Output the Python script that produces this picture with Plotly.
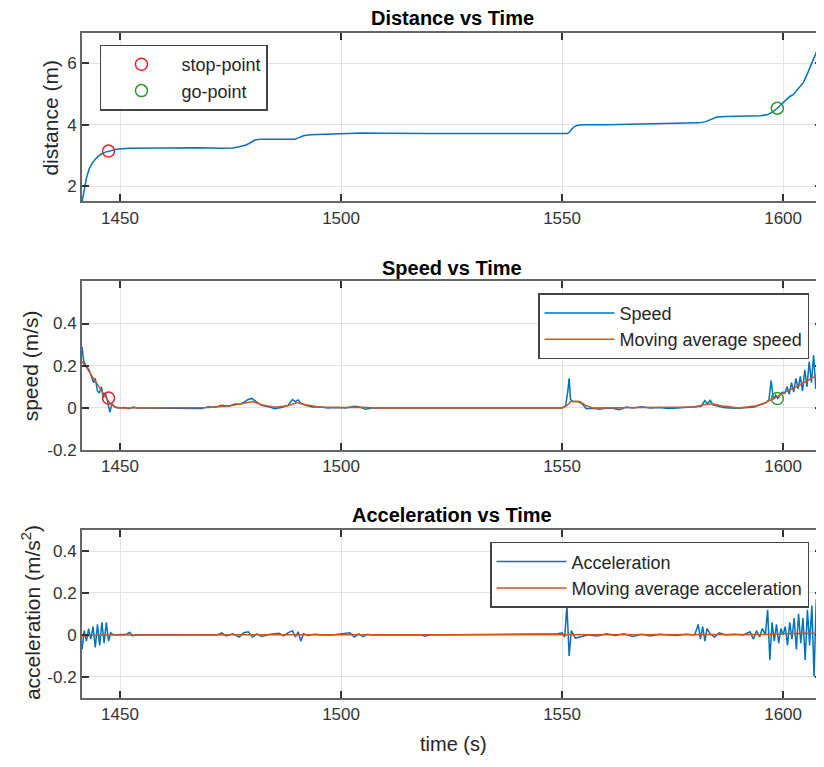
import plotly.graph_objects as go

# ---------------- data ----------------
dist_t = [1441.4, 1441.8, 1442.4, 1443.0, 1443.7, 1444.7, 1445.6, 1446.5, 1447.4, 1448.3,
          1449.2, 1452, 1460, 1468, 1473, 1475.5, 1477, 1478.5, 1479.6, 1480.5,
          1482, 1485, 1488, 1489.5, 1490.5, 1491.5, 1493, 1497, 1501, 1505,
          1508, 1520, 1551.2, 1551.7, 1552.2, 1552.8, 1553.5, 1555, 1560, 1568,
          1576, 1581, 1582.5, 1583.5, 1585, 1587, 1592, 1595, 1596.5, 1597.7,
          1598.6, 1599.5, 1600.5, 1601.5, 1602.3, 1603, 1603.8, 1604.6, 1605.3, 1606,
          1606.8, 1607.5, 1608.2, 1608.9]
dist_v = [1.48, 1.8, 2.26, 2.55, 2.75, 2.92, 3.03, 3.1, 3.14, 3.18,
          3.2, 3.23, 3.25, 3.25, 3.23, 3.24, 3.28, 3.34, 3.42, 3.5,
          3.53, 3.53, 3.52, 3.53, 3.58, 3.64, 3.67, 3.69, 3.70, 3.73,
          3.72, 3.71, 3.71, 3.76, 3.86, 3.94, 3.98, 4.0, 4.0, 4.02,
          4.03, 4.06, 4.1, 4.16, 4.25, 4.27, 4.28, 4.29, 4.33, 4.42,
          4.53, 4.65, 4.8, 4.92, 4.98, 5.1, 5.24, 5.38, 5.6, 5.85,
          6.13, 6.35, 6.55, 6.7]

stop_t = [1447.4]
stop_dist = [3.14]
stop_speed = [0.047]
go_t = [1598.7]
go_dist = [4.54]
go_speed = [0.045]

speed_t = [1441.4, 1441.8, 1442.3, 1443.0, 1443.5, 1444.0, 1444.4, 1444.9, 1445.3, 1445.8,
           1446.2, 1446.7, 1447.2, 1447.7, 1448.2, 1448.8, 1449.5, 1451.0, 1452.0, 1453.0,
           1454.0, 1467.0, 1468.5, 1470.0, 1471.5, 1473.0, 1474.5, 1476.0, 1477.5, 1479.0,
           1479.8, 1480.8, 1482.0, 1483.5, 1485.0, 1486.5, 1488.0, 1489.0, 1489.6, 1490.3,
           1491.0, 1492.0, 1493.5, 1495.0, 1497.0, 1499.0, 1501.0, 1503.0, 1504.0, 1505.5,
           1507.0, 1550.0, 1550.8, 1551.3, 1551.6, 1551.9, 1552.5, 1553.5, 1554.5, 1555.5,
           1557.0, 1558.5, 1560.0, 1561.5, 1563.0, 1564.5, 1566.0, 1568.0, 1570.0, 1572.0,
           1574.0, 1576.0, 1578.0, 1580.0, 1581.5, 1582.3, 1582.9, 1583.5, 1584.1, 1585.0,
           1586.5, 1588.0, 1590.0, 1592.0, 1593.5, 1594.5, 1595.5, 1596.2, 1596.8, 1597.3,
           1597.8, 1598.3, 1598.8, 1599.3, 1599.8, 1600.4, 1600.9, 1601.4, 1601.9, 1602.4,
           1602.9, 1603.4, 1603.9, 1604.4, 1604.9, 1605.4, 1605.9, 1606.4, 1606.9, 1607.4,
           1607.9, 1608.4, 1608.9]
speed_v = [0.29, 0.22, 0.2, 0.18, 0.15, 0.12, 0.14, 0.08, 0.07, 0.10,
           0.05, 0.07, 0.03, -0.02, 0.02, 0.005, 0.0, 0.002, -0.004, 0.004,
           0.0, 0.0, -0.003, 0.006, 0.003, 0.012, 0.008, 0.018, 0.02, 0.04,
           0.045, 0.03, 0.012, 0.006, -0.004, 0.002, 0.012, 0.04, 0.03, 0.038,
           0.02, 0.012, 0.004, 0.006, 0.0, 0.002, 0.0, 0.008, 0.006, -0.006,
           0.0, 0.0, 0.01, 0.08, 0.14, 0.04, 0.03, 0.03, 0.02, -0.004,
           -0.002, -0.006, 0.0, -0.002, -0.008, 0.004, 0.0, 0.006, 0.0, 0.002,
           -0.003, 0.0, 0.004, 0.006, 0.008, 0.035, 0.02, 0.036, 0.015, 0.01,
           0.002, 0.0, -0.002, 0.002, 0.004, 0.012, 0.02, 0.025, 0.04, 0.13,
           0.04, 0.06, 0.045, 0.06, 0.075, 0.07, 0.1, 0.065, 0.12, 0.075,
           0.14, 0.09, 0.15, 0.08, 0.18, 0.1, 0.22, 0.12, 0.25, 0.09,
           0.27, 0.15, 0.2]

ma_speed_t = [1441.4, 1442.5, 1444.0, 1445.5, 1446.8, 1447.8, 1448.8, 1450, 1470, 1475,
              1478, 1480, 1482, 1485, 1488, 1490, 1492, 1495, 1500, 1505,
              1508, 1550, 1551, 1552, 1554, 1555.5, 1557, 1570, 1580, 1582,
              1584, 1586, 1590, 1594, 1596, 1598, 1600, 1602, 1604, 1606,
              1608, 1608.9]
ma_speed_v = [0.22, 0.19, 0.14, 0.09, 0.05, 0.02, 0.005, 0.0, 0.002, 0.01,
              0.02, 0.03, 0.015, 0.003, 0.01, 0.025, 0.015, 0.004, 0.002, 0.003,
              0.0, 0.0, 0.01, 0.03, 0.03, 0.01, 0.0, 0.002, 0.004, 0.015,
              0.02, 0.01, 0.0, 0.01, 0.025, 0.045, 0.07, 0.09, 0.11, 0.135,
              0.16, 0.17]

acc_t = [1441.4, 1441.9, 1442.4, 1442.9, 1443.4, 1443.9, 1444.4, 1444.9, 1445.4, 1445.9,
         1446.4, 1446.9, 1447.4, 1447.9, 1448.5, 1449.5, 1451.5, 1452.2, 1452.8, 1453.5,
         1472.0, 1473.0, 1474.0, 1475.5, 1477.0, 1478.0, 1479.0, 1480.0, 1481.0, 1482.0,
         1484.0, 1486.0, 1487.0, 1488.0, 1489.0, 1489.7, 1490.3, 1490.9, 1491.5, 1492.5,
         1494.0, 1496.0, 1498.0, 1502.0, 1503.0, 1504.0, 1505.0, 1506.0, 1507.0, 1518.0,
         1519.0, 1520.0, 1549.0, 1550.0, 1550.6, 1551.1, 1551.6, 1552.1, 1553.0, 1554.0,
         1556.0, 1558.0, 1560.0, 1562.0, 1564.0, 1566.0, 1568.0, 1570.0, 1572.0, 1574.0,
         1576.0, 1578.0, 1580.0, 1580.8, 1581.3, 1581.8, 1582.3, 1582.8, 1583.5, 1584.5,
         1585.5, 1587.0, 1589.0, 1591.0, 1592.5, 1593.3, 1594.0, 1594.7, 1595.3, 1596.0,
         1596.5, 1597.0, 1597.5, 1598.0, 1598.5, 1599.0, 1599.5, 1600.0, 1600.5, 1601.0,
         1601.5, 1602.0, 1602.5, 1603.0, 1603.5, 1604.0, 1604.5, 1605.0, 1605.5, 1606.0,
         1606.5, 1607.0, 1607.5, 1608.0, 1608.5, 1608.9]
acc_v = [-0.07, 0.02, -0.03, 0.03, -0.02, 0.04, -0.06, 0.05, -0.05, 0.06,
         -0.04, 0.06, -0.03, 0.01, 0.0, 0.0, 0.003, 0.012, -0.005, 0.0,
         0.0, 0.01, -0.005, 0.005, -0.01, 0.01, 0.015, -0.01, 0.005, -0.008,
         0.003, 0.008, -0.005, 0.01, 0.02, -0.01, 0.015, -0.03, 0.005, -0.003,
         0.003, 0.0, 0.0, 0.01, -0.01, 0.005, -0.008, 0.003, 0.0, 0.0,
         -0.006, 0.0, 0.005, 0.01, -0.01, 0.14, -0.1, 0.02, -0.015, -0.01,
         0.0, -0.005, 0.005, -0.003, 0.005, -0.008, 0.003, -0.005, 0.003, 0.0,
         -0.003, 0.003, 0.0, 0.05, -0.02, 0.04, -0.03, 0.03, 0.005, -0.01,
         0.01, 0.0, 0.003, 0.0, 0.015, -0.02, 0.02, -0.01, 0.03, 0.0,
         0.12, -0.12, 0.06, -0.03, 0.05, -0.04, 0.03, 0.0, 0.04, -0.05,
         0.06, -0.02, 0.08, -0.07, 0.1, -0.04, 0.08, -0.12, 0.12, -0.05,
         0.14, -0.2, 0.17, -0.23, 0.19, -0.1]

ma_acc_t = [1441.4, 1446.0, 1450.0, 1550.0, 1596.0, 1600.0, 1604.0, 1608.9]
ma_acc_v = [-0.005, 0.0, 0.0, 0.0, 0.002, 0.005, 0.008, 0.01]

x_ticks = [1450, 1500, 1550, 1600]
x_range = [1441.4, 1608.8]

# ---------------- style ----------------
OFF = 8                       # page offset of the figure (body margin)
W, H = 824 - OFF, 767 - OFF   # figure size so that it fits the window
L, R, T, B = 82 - OFF, 0, 0, 0
BLUE = "#0072BD"
ORANGE = "#D95319"
RED = "#e8242b"
GREEN = "#2f9a2f"
FONT = "Liberation Sans, Arial, sans-serif"


def py(pix):
    return 1 - (pix - OFF) / H


def px(pix):
    return (pix - OFF - L) / (W - L - R)


fig = go.Figure()

# Panel 1 - distance
fig.add_trace(go.Scatter(x=dist_t, y=dist_v, mode="lines", line=dict(color=BLUE, width=1.5),
                         showlegend=False, xaxis="x", yaxis="y"))
fig.add_trace(go.Scatter(x=stop_t, y=stop_dist, mode="markers", name="stop-point",
                         marker=dict(symbol="circle-open", size=12, color=RED, line=dict(width=1.5)),
                         xaxis="x", yaxis="y", legend="legend"))
fig.add_trace(go.Scatter(x=go_t, y=go_dist, mode="markers", name="go-point",
                         marker=dict(symbol="circle-open", size=12, color=GREEN, line=dict(width=1.5)),
                         xaxis="x", yaxis="y", legend="legend"))

# Panel 2 - speed
fig.add_trace(go.Scatter(x=speed_t, y=speed_v, mode="lines", name="Speed",
                         line=dict(color=BLUE, width=1.5), xaxis="x2", yaxis="y2", legend="legend2"))
fig.add_trace(go.Scatter(x=ma_speed_t, y=ma_speed_v, mode="lines", name="Moving average speed",
                         line=dict(color=ORANGE, width=1.5), xaxis="x2", yaxis="y2", legend="legend2"))
fig.add_trace(go.Scatter(x=stop_t, y=stop_speed, mode="markers", showlegend=False,
                         marker=dict(symbol="circle-open", size=12, color=RED, line=dict(width=1.5)),
                         xaxis="x2", yaxis="y2"))
fig.add_trace(go.Scatter(x=go_t, y=go_speed, mode="markers", showlegend=False,
                         marker=dict(symbol="circle-open", size=12, color=GREEN, line=dict(width=1.5)),
                         xaxis="x2", yaxis="y2"))

# Panel 3 - acceleration
fig.add_trace(go.Scatter(x=acc_t, y=acc_v, mode="lines", name="Acceleration",
                         line=dict(color=BLUE, width=1.5), xaxis="x3", yaxis="y3", legend="legend3"))
fig.add_trace(go.Scatter(x=ma_acc_t, y=ma_acc_v, mode="lines", name="Moving average acceleration",
                         line=dict(color=ORANGE, width=1.5), xaxis="x3", yaxis="y3", legend="legend3"))

axis_common = dict(showline=True, linecolor="#666666", linewidth=2, mirror="ticks",
                   ticks="inside", ticklen=7, tickwidth=1.5, tickcolor="#333333",
                   showgrid=True, gridcolor="#e3e3e3", gridwidth=1, zeroline=False,
                   tickfont=dict(family=FONT, size=17, color="#333333"))

domains = [(33, 204), (285, 456), (537, 707)]
yranges = [[1.5, 7.0], [-0.2, 0.6], [-0.3, 0.5]]
yticks = [[2, 4, 6], [-0.2, 0, 0.2, 0.4], [-0.2, 0, 0.2, 0.4]]
ytext = [["2", "4", "6"], ["-0.2", "0", "0.2", "0.4"], ["-0.2", "0", "0.2", "0.4"]]

layout = dict(width=W, height=H, margin=dict(l=L, r=R, t=T, b=B, pad=0),
              paper_bgcolor="white", plot_bgcolor="white",
              font=dict(family=FONT, color="#262626"))
for i in range(3):
    sx = "" if i == 0 else str(i + 1)
    top, bot = domains[i]
    layout["xaxis" + sx] = dict(axis_common, domain=[0, 1], range=x_range,
                                tickvals=x_ticks, anchor="y" + sx)
    layout["yaxis" + sx] = dict(axis_common, domain=[py(bot), py(top)], range=yranges[i],
                                tickvals=yticks[i], ticktext=ytext[i], anchor="x" + sx)

legend_common = dict(bgcolor="white", bordercolor="#444444", borderwidth=1.5,
                     font=dict(family=FONT, size=18, color="#262626"),
                     xref="paper", yref="paper", itemwidth=70, tracegroupgap=0)
layout["legend"] = dict(legend_common, x=px(100), y=py(45), xanchor="left", yanchor="top")
layout["legend2"] = dict(legend_common, x=px(811), y=py(297), xanchor="right", yanchor="top")
layout["legend3"] = dict(legend_common, x=px(811), y=py(549), xanchor="right", yanchor="top")

fig.update_layout(**layout)

titles = [("Distance vs Time", 18), ("Speed vs Time", 271), ("Acceleration vs Time", 522)]
for text, ypix in titles:
    fig.add_annotation(text="<b>%s</b>" % text, x=px(453), y=py(ypix), xref="paper", yref="paper",
                       showarrow=False, xanchor="center", yanchor="middle",
                       font=dict(family=FONT, size=20, color="#000000"))

ylabels = [("distance (m)", 50, 119), ("speed (m/s)", 30, 371),
           ("acceleration (m/s<sup>2</sup>)", 31, 621)]
for text, xpix, ypix in ylabels:
    fig.add_annotation(text=text, x=px(xpix), y=py(ypix), xref="paper", yref="paper",
                       showarrow=False, xanchor="center", yanchor="middle", textangle=-90,
                       font=dict(family=FONT, size=21, color="#262626"))

fig.add_annotation(text="time (s)", x=px(455), y=py(754), xref="paper", yref="paper",
                   showarrow=False, xanchor="center", yanchor="middle",
                   font=dict(family=FONT, size=20, color="#262626"))

fig.write_html("out.html")
